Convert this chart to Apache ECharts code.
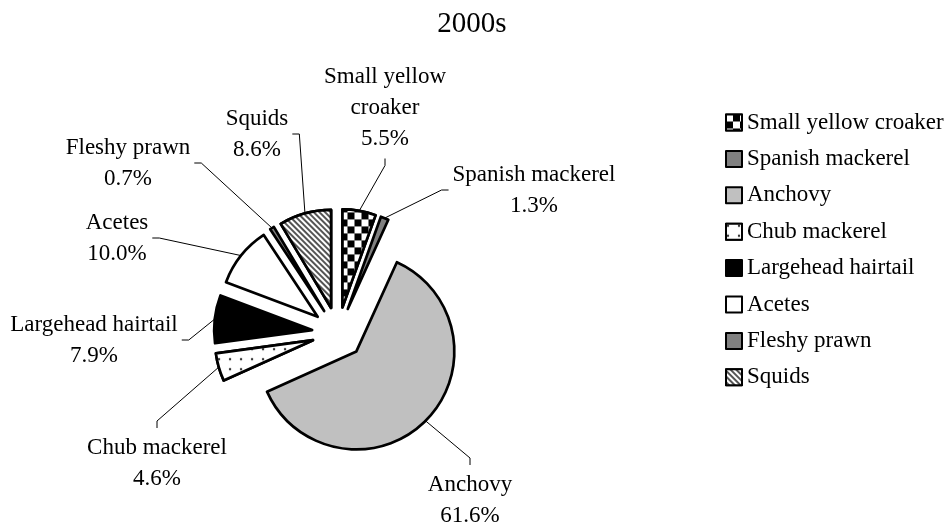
<!DOCTYPE html>
<html>
<head>
<meta charset="utf-8">
<script src="https://cdn.jsdelivr.net/npm/echarts@6/dist/echarts.min.js"></script>
<style>
  html, body { margin: 0; padding: 0; background: #fff; }
</style>
</head>
<body>
<div id="main" style="width: 946px; height: 524px"></div>
<script>
// species and share (%) in the 2000s
var species = ["Small yellow croaker", "Spanish mackerel", "Anchovy", "Chub mackerel",
  "Largehead hairtail", "Acetes", "Fleshy prawn", "Squids"];
var shares = [5.5, 1.3, 61.6, 4.6, 7.9, 10.0, 0.7, 8.6];
var labelNames = ["Small yellow\ncroaker", "Spanish mackerel", "Anchovy", "Chub mackerel",
  "Largehead hairtail", "Acetes", "Fleshy prawn", "Squids"];

// label placement: centre of each label and which side its leader line meets
var labelPos = [[385, 108], [534, 190], [470, 500], [157, 463],
  [94, 340], [117, 238], [128, 163], [257, 134]];
var labelSide = ["bottom", "left", "top", "top", "right", "right", "right", "right"];

var pieCenter = [338, 333];
var pieRadius = 98;
var explode = 26;

var fills = [
  { color: "#fff", decal: { symbol: "rect", symbolSize: 1, color: "#000", backgroundColor: "#fff",
      dashArrayX: [[7, 7], [0, 7, 7, 0]], dashArrayY: [7, 0] } },
  { color: "#808080" },
  { color: "#c0c0c0" },
  { color: "#fff", decal: { symbol: "circle", symbolSize: 0.6, color: "#333", backgroundColor: "#fff",
      dashArrayX: [4, 7], dashArrayY: [4, 6] } },
  { color: "#000" },
  { color: "#fff" },
  { color: "#808080" },
  { color: "#fff", decal: { symbol: "rect", symbolSize: 1, color: "#555", backgroundColor: "#fff",
      dashArrayX: [1, 0], dashArrayY: [2, 2], rotation: Math.PI / 4 } }
];

var font = "Liberation Serif, Times New Roman, serif";

// mid angle of each slice (clockwise from 12 o'clock), used to undo the
// selection shift that echarts also applies to labels and their lines
var total = shares.reduce(function (a, b) { return a + b; }, 0);
var midAngles = [];
var acc = 0;
shares.forEach(function (v) {
  midAngles.push((acc + v / 2) / total * Math.PI * 2);
  acc += v;
});

var myChart = echarts.init(document.getElementById("main"));

var pieData = species.map(function (name, i) {
  var style = { color: fills[i].color, borderColor: "#000", borderWidth: 2.7 };
  if (fills[i].decal) style.decal = fills[i].decal;
  return { name: name, value: shares[i], selected: true, itemStyle: style };
});

var option = {
  animation: false,
  title: {
    text: "2000s",
    left: 467,
    top: 5,
    textAlign: "center",
    textStyle: { fontFamily: font, fontSize: 29, fontWeight: "normal", color: "#000" }
  },
  legend: {
    orient: "vertical",
    left: 720,
    top: 106,
    icon: "rect",
    itemWidth: 16,
    itemHeight: 16,
    itemGap: 13.4,
    selectedMode: false,
    data: species,
    textStyle: { fontFamily: font, fontSize: 23, color: "#000" }
  },
  series: [
    {
      type: "pie",
      center: pieCenter,
      radius: [0, pieRadius],
      startAngle: 90,
      clockwise: true,
      selectedMode: "multiple",
      selectedOffset: explode,
      avoidLabelOverlap: false,
      emphasis: { disabled: true },
      data: pieData,
      label: {
        show: true,
        color: "#000",
        fontFamily: font,
        fontSize: 23,
        lineHeight: 31,
        formatter: function (p) {
          return labelNames[p.dataIndex] + "\n" + shares[p.dataIndex].toFixed(1) + "%";
        }
      },
      labelLine: {
        show: true,
        length: 10,
        length2: 6,
        lineStyle: { color: "#000", width: 1 }
      },
      labelLayout: function (params) {
        var i = params.dataIndex;
        var a = midAngles[i];
        var off = [explode * Math.sin(a), -explode * Math.cos(a)];
        var r = params.labelRect;
        // target centre in the un-shifted frame
        var tx = labelPos[i][0] - off[0];
        var ty = labelPos[i][1] - off[1];
        var anchorX = params.align === "left" ? r.x
          : params.align === "right" ? r.x + r.width : r.x + r.width / 2;
        var midY = r.y + r.height / 2;

        var gap = 4, tick = 7;
        var p2, p1;
        if (labelSide[i] === "bottom") {
          p2 = [tx, ty + r.height / 2 + gap]; p1 = [tx, p2[1] + tick];
        } else if (labelSide[i] === "top") {
          p2 = [tx, ty - r.height / 2 - gap]; p1 = [tx, p2[1] - tick];
        } else if (labelSide[i] === "left") {
          p2 = [tx - r.width / 2 - gap, ty]; p1 = [p2[0] - tick, ty];
        } else {
          p2 = [tx + r.width / 2 + gap, ty]; p1 = [p2[0] + tick, ty];
        }
        var p0 = params.labelLinePoints && params.labelLinePoints[0]
          ? params.labelLinePoints[0].slice()
          : [pieCenter[0] + pieRadius * Math.sin(a), pieCenter[1] - pieRadius * Math.cos(a)];

        return {
          dx: tx - anchorX,
          dy: ty - midY,
          align: "center",
          labelLinePoints: [p0, p1, p2]
        };
      }
    }
  ]
};
myChart.setOption(option);
</script>
</body>
</html>
